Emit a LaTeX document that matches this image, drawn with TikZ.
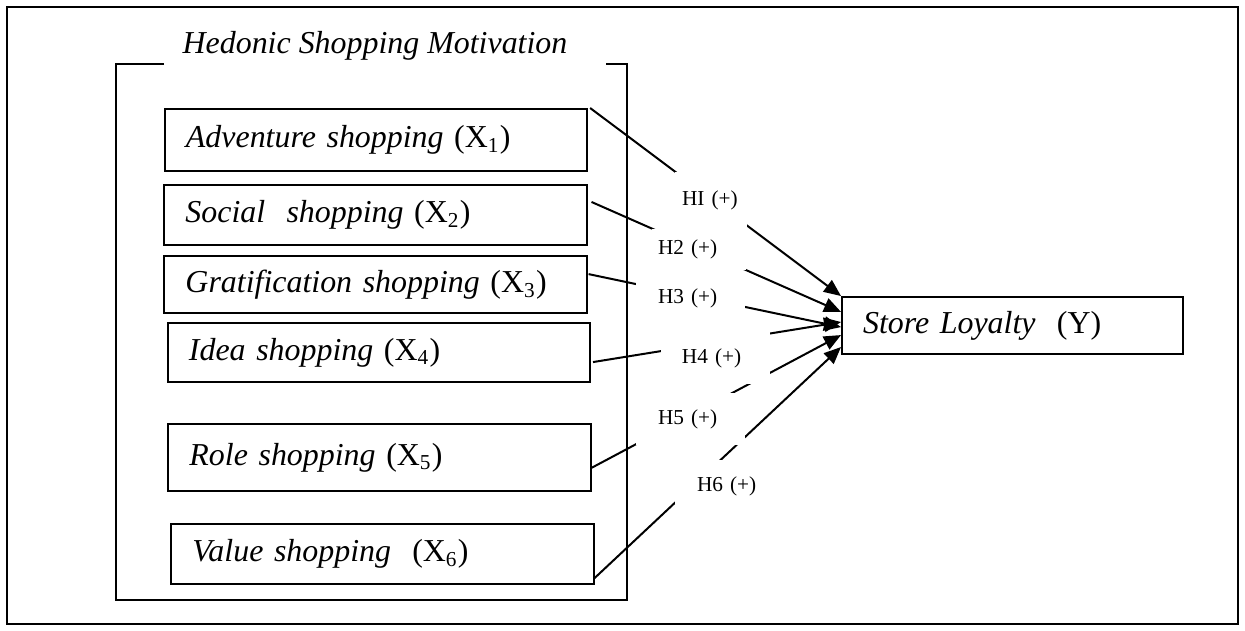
\documentclass[tikz,border=0pt]{standalone}
\usepackage{fontspec}
\setmainfont{Liberation Serif}
\usetikzlibrary{arrows.meta}

\begin{document}
\begin{tikzpicture}[x=0.376pt, y=-0.376pt,
    var/.style={rectangle, draw, line width=0.75pt, text width=142.9pt, inner xsep=7.9pt, inner ysep=0pt, align=left, minimum height=#1, font=\fontsize{12}{14.4}\selectfont},
    hyp/.style={rectangle, fill=white, inner ysep=0pt, align=left, font=\fontsize{8}{9.6}\selectfont},
    arr/.style={-{Triangle[length=6.4pt, width=5.4pt]}, line width=0.75pt},
]
\useasboundingbox (0,0) rectangle (1245,631);
\draw[line width=0.9pt] (7,7) rectangle (1238,624);

% === Hedonic Shopping Motivation (open frame) ===
\node[font=\fontsize{12}{14.4}\selectfont\itshape] (hsm) at (375,46) {Hedonic Shopping Motivation};
\draw[line width=0.75pt] (164,64) -- (116,64) -- (116,600) -- (627,600) -- (627,64) -- (606,64);

% Dimensions X1--X6
\node[var=23.3pt] (adv) at (376,140) {\textit{Adventure shopping} (X\textsubscript{1})};
\node[var=22.6pt] (soc) at (375.5,215) {\textit{Social\ \ shopping} (X\textsubscript{2})};
\node[var=21.4pt] (grat) at (375.5,284.5) {\textit{Gratification shopping} (X\textsubscript{3})};
\node[var=22.2pt] (idea) at (379,352.5) {\textit{Idea shopping} (X\textsubscript{4})};
\node[var=25.2pt] (role) at (379.5,457.5) {\textit{Role shopping} (X\textsubscript{5})};
\node[var=22.6pt] (val) at (382.5,554) {\textit{Value shopping}\ \ (X\textsubscript{6})};

% === Store Loyalty ===
\node[var=21.4pt, text width=112.4pt] (sl) at (1012.5,325.5) {\textit{Store Loyalty}\ \ (Y)};

% Hypotheses
\draw[arr] ([xshift=0.8pt]adv.north east) -- (sl.north west);
\draw[arr] ([xshift=1.5pt, yshift=4.9pt]soc.east) -- ([yshift=5.1pt]sl.west);
\draw[arr] ([xshift=0.4pt, yshift=3.9pt]grat.east) -- ([yshift=-0.6pt]sl.west);
\draw[arr] ([xshift=0.75pt, yshift=-3.6pt]idea.east) -- ([yshift=1.3pt]sl.west);
\draw[arr] ([yshift=-3.9pt]role.east) -- ([yshift=-3.6pt]sl.west);
\draw[arr] ([yshift=2.6pt]val.south east) -- ([yshift=-8.1pt]sl.west);

\node[hyp, text width=21.8pt, inner xsep=2.6pt, minimum height=21.1pt] (h1) at (711,200) {HI (+)};
\node[hyp, text width=30.8pt, inner xsep=2.3pt, minimum height=15.4pt] (h2) at (699,249.5) {H2 (+)};
\node[hyp, text width=24.4pt, inner xsep=8.3pt, minimum height=15pt] (h3) at (690.5,298) {H3 (+)};
\node[hyp, text width=25.2pt, inner xsep=7.9pt, minimum height=19.6pt] (h4) at (715.5,358) {H4 (+)};
\node[hyp, text width=24.4pt, inner xsep=8.3pt, minimum height=19.6pt] (h5) at (690.5,419) {H5 (+)};
\node[hyp, text width=24.4pt, inner xsep=8.3pt, minimum height=19.6pt] (h6) at (729.5,486) {H6 (+)};

\end{tikzpicture}
\end{document}
